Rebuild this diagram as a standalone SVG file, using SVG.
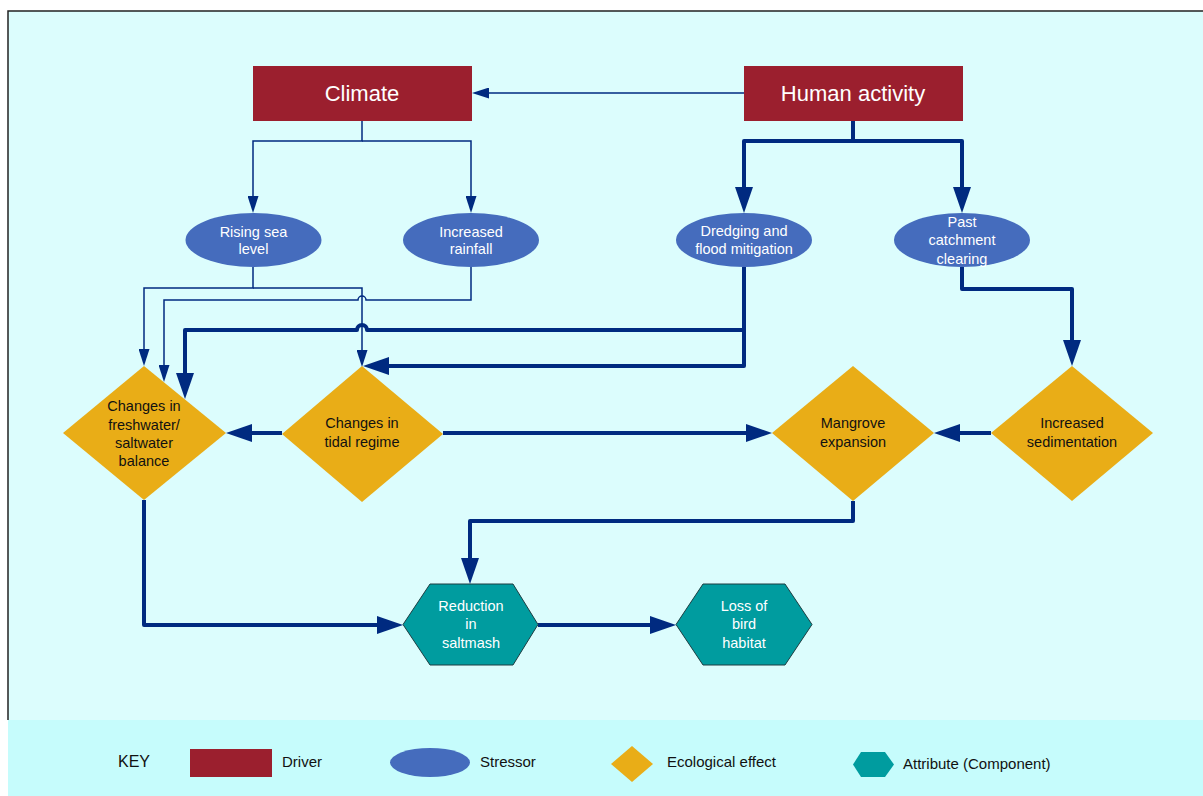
<svg xmlns="http://www.w3.org/2000/svg" width="1203" height="796" viewBox="0 0 1203 796">
<defs>
<style>
.driver{fill:#9b1f2e}
.stressor{fill:#456cbd}
.effect{fill:#e9ad17}
.attr{fill:#009c9f;stroke:#1c3c40;stroke-width:1}
.t{font-family:"Liberation Sans",Arial,sans-serif;text-anchor:middle}
.tw{fill:#ffffff;font-size:14.5px}
.tb{fill:#111111;font-size:14.5px}
.td{fill:#ffffff;font-size:22px}
.key{font-family:"Liberation Sans",Arial,sans-serif;font-size:15px;fill:#111111}
.thin{fill:none;stroke:#002a80;stroke-width:1.5;marker-end:url(#ah-thin)}
.thick{fill:none;stroke:#002a80;stroke-width:4;stroke-linejoin:round;marker-end:url(#ah-thick)}
</style>
<marker id="ah-thick" markerUnits="userSpaceOnUse" markerWidth="26" markerHeight="18" refX="16" refY="9" orient="auto" viewBox="0 0 26 18">
<path d="M0,0 L26,9 L0,18 z" fill="#002a80"/>
</marker>
<marker id="ah-thin" markerUnits="userSpaceOnUse" markerWidth="17" markerHeight="11" refX="11" refY="5.5" orient="auto" viewBox="0 0 17 11">
<path d="M0,0 L17,5.5 L0,11 z" fill="#002a80"/>
</marker>
</defs>
<rect x="0" y="0" width="1203" height="796" fill="#ffffff"/>
<rect x="8" y="11" width="1195" height="709" fill="#dcfdfd"/>
<path d="M8,720 V11 H1203" fill="none" stroke="#222222" stroke-width="1.5"/>
<rect x="8" y="720" width="1195" height="76" fill="#c6fcfc"/>

<g id="connectors">
<path class="thin" d="M744,93 H478"/>
<path class="thin" d="M362,121 V141 H253 V207"/>
<path class="thin" d="M362,141 H471 V207"/>
<path class="thin" d="M253,267 V288 H144 V360"/>
<path class="thin" d="M253,288 H362 V361"/>
<path class="thin" d="M471,267 V300 H366 A4,4 0 0 0 358,300 H164 V376"/>
<path class="thick" d="M853,121 V141 H744 V203"/>
<path class="thick" d="M853,141 H962 V203"/>
<path class="thick" d="M744,267 V366 H373"/>
<path class="thick" d="M744,330 H367 A5,5 0 0 0 357,330 H185 V389"/>
<path class="thick" d="M962,267 V289 H1072 V356"/>
<path class="thick" d="M282,433 H236"/>
<path class="thick" d="M443,433 H762"/>
<path class="thick" d="M991,433 H944"/>
<path class="thick" d="M853,501 V521 H470 V574"/>
<path class="thick" d="M144,500 V625 H393"/>
<path class="thick" d="M538,625 H666"/>
</g>

<g id="climate">
<rect class="driver" x="253" y="66" width="219" height="55"/>
<text class="t td" x="362" y="101">Climate</text>
</g>
<g id="human-activity">
<rect class="driver" x="744" y="66" width="219" height="55"/>
<text class="t td" x="853" y="101">Human activity</text>
</g>

<g id="rising-sea-level">
<ellipse class="stressor" cx="253.5" cy="240" rx="68" ry="27"/>
<text class="t tw" x="253.5" y="237">Rising sea</text>
<text class="t tw" x="253.5" y="254">level</text>
</g>
<g id="increased-rainfall">
<ellipse class="stressor" cx="471" cy="240" rx="68" ry="27"/>
<text class="t tw" x="471" y="237">Increased</text>
<text class="t tw" x="471" y="254">rainfall</text>
</g>
<g id="dredging">
<ellipse class="stressor" cx="744" cy="240" rx="68" ry="27"/>
<text class="t tw" x="744" y="236">Dredging and</text>
<text class="t tw" x="744" y="254">flood mitigation</text>
</g>
<g id="past-catchment">
<ellipse class="stressor" cx="962" cy="240" rx="68" ry="27"/>
<text class="t tw" x="962" y="227">Past</text>
<text class="t tw" x="962" y="245">catchment</text>
<text class="t tw" x="962" y="264">clearing</text>
</g>

<g id="freshwater-balance">
<polygon class="effect" points="144,366 226,433 144,500 63,433"/>
<text class="t tb" x="144" y="411">Changes in</text>
<text class="t tb" x="144" y="430">freshwater/</text>
<text class="t tb" x="144" y="448">saltwater</text>
<text class="t tb" x="144" y="466">balance</text>
</g>
<g id="tidal-regime">
<polygon class="effect" points="362,366 443,434 362,502 282,434"/>
<text class="t tb" x="362" y="428">Changes in</text>
<text class="t tb" x="362" y="447">tidal regime</text>
</g>
<g id="mangrove-expansion">
<polygon class="effect" points="853,366 934,433 853,501 772,433"/>
<text class="t tb" x="853" y="428">Mangrove</text>
<text class="t tb" x="853" y="447">expansion</text>
</g>
<g id="increased-sedimentation">
<polygon class="effect" points="1072,366 1153,433 1072,501 991,433"/>
<text class="t tb" x="1072" y="428">Increased</text>
<text class="t tb" x="1072" y="447">sedimentation</text>
</g>

<g id="reduction-saltmash">
<polygon class="attr" points="403,624.5 430,584 513,584 538,624.5 513,665 430,665"/>
<text class="t tw" x="471" y="611">Reduction</text>
<text class="t tw" x="471" y="629">in</text>
<text class="t tw" x="471" y="648">saltmash</text>
</g>
<g id="loss-bird-habitat">
<polygon class="attr" points="676,624.5 703,584 785,584 812,624.5 785,665 703,665"/>
<text class="t tw" x="744" y="611">Loss of</text>
<text class="t tw" x="744" y="629">bird</text>
<text class="t tw" x="744" y="648">habitat</text>
</g>

<g id="key">
<text class="key" x="118" y="767" style="font-size:16px">KEY</text>
<rect class="driver" x="190" y="749" width="82" height="28"/>
<text class="key" x="282" y="767">Driver</text>
<ellipse class="stressor" cx="430" cy="762.5" rx="40" ry="14.5"/>
<text class="key" x="480" y="767">Stressor</text>
<polygon class="effect" points="632,746 653,764 632,782 611,764"/>
<text class="key" x="667" y="767">Ecological effect</text>
<polygon class="attr" points="853,764.5 861,752 885,752 894,764.5 885,777 861,777" style="stroke:none"/>
<text class="key" x="903" y="769">Attribute (Component)</text>
</g>
</svg>
